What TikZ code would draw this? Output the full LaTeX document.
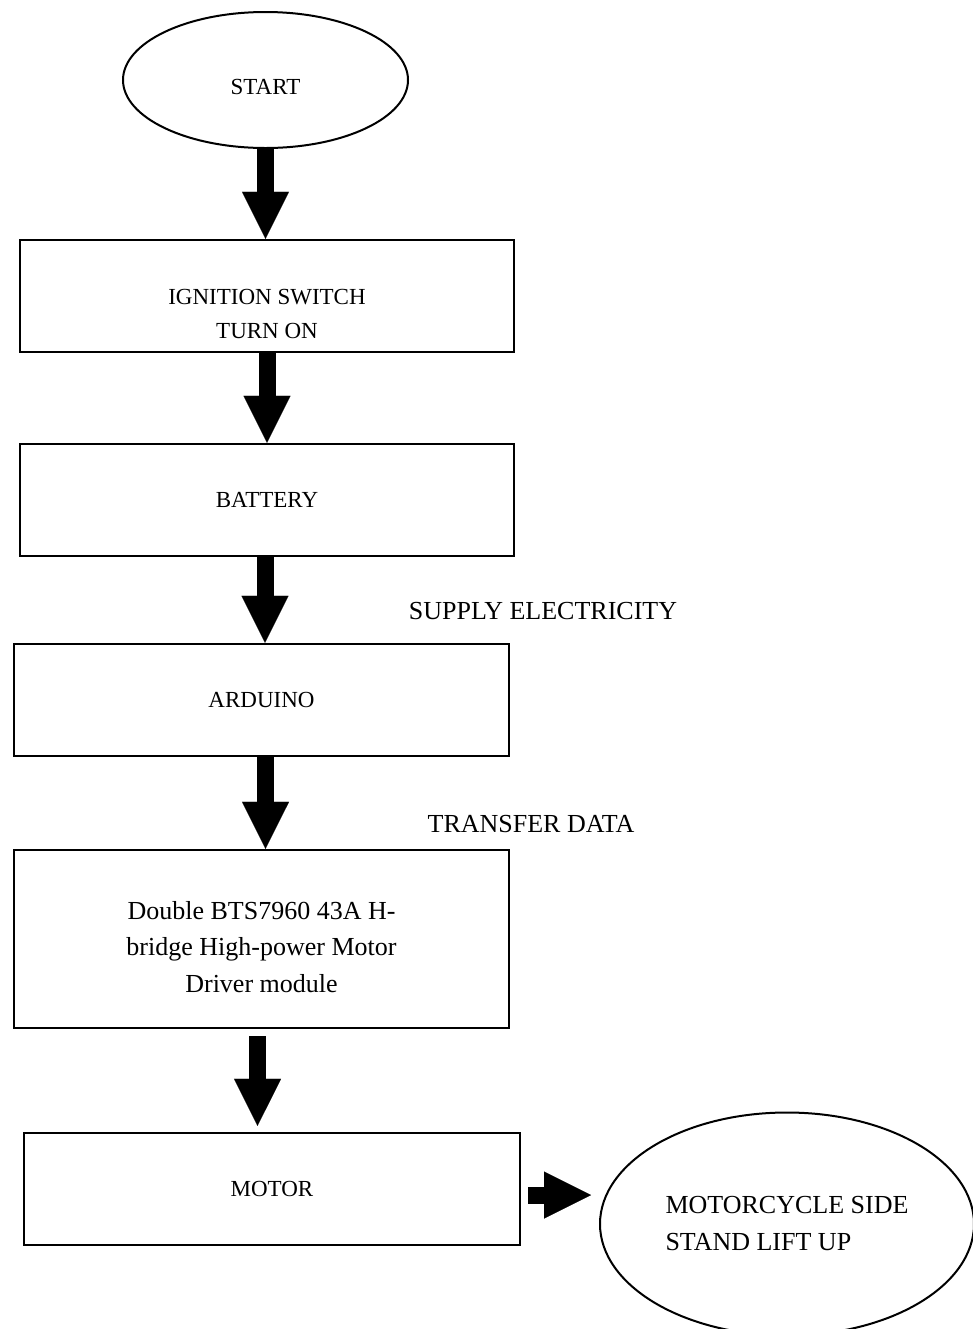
\documentclass[tikz,border=0pt]{standalone}
\usepackage{fontspec}
\setmainfont{Liberation Serif}
\usetikzlibrary{arrows.meta,positioning,shapes.geometric}
\newcommand{\dropby}[2]{\raisebox{-#1}[\height][\depth]{\begin{tabular}{@{}c@{}}#2\end{tabular}}}
\tikzset{
  stepbox/.style={draw,rectangle,line width=1.25pt,minimum width=247pt,
                  minimum height=56pt,inner sep=0pt,align=center,
                  font=\fontsize{11.5}{17}\selectfont},
  endpt/.style={draw,ellipse,line width=1pt,inner sep=0pt,align=center},
  fat/.style={line width=8.5pt,
              -{Triangle[length=23.5pt,width=23.5pt,line width=0.01pt]}},
  lbl/.style={font=\fontsize{13}{18}\selectfont,inner sep=0pt},
}
\begin{document}
\begin{tikzpicture}[x=0.5pt,y=-0.5pt]
  \clip (0,0) rectangle (973,1329);

  \node[endpt,minimum width=142.5pt,minimum height=68pt,
        font=\fontsize{11.5}{17}\selectfont] (start) at (265.5,80)
        {\dropby{4pt}{START}};
  \node[stepbox] (ign) at (267,296)
        {\dropby{9.5pt}{IGNITION SWITCH\\TURN ON}};
  \node[stepbox] (bat) at (267,500) {BATTERY};
  \node[stepbox,minimum width=247.5pt] (ard) at (261.5,700) {ARDUINO};
  \node[stepbox,minimum width=247.5pt,minimum height=89pt,
        font=\fontsize{13}{18.25}\selectfont] (drv) at (261.5,939)
        {\dropby{4.75pt}{Double BTS7960 43A H-\\bridge High-power Motor\\Driver module}};
  \node[stepbox,minimum width=248pt] (mot) at (272,1189) {MOTOR};
  \node[endpt,minimum width=187pt,minimum height=111.5pt,align=left,
        font=\fontsize{13}{18.5}\selectfont] (lift) at (787,1224)
        {MOTORCYCLE SIDE\\STAND LIFT UP};

  \draw[fat] (start.south) -- (start.south |- ign.north);
  \draw[fat] (ign.south) -- (ign.south |- bat.north);
  \draw[fat] ([xshift=-1pt]bat.south) -- ([xshift=-1pt]bat.south |- ard.north);
  \draw[fat] ([xshift=2pt]ard.south) -- ([xshift=2pt]ard.south |- drv.north);
  \draw[fat,shorten <=3.5pt,shorten >=3pt]
        ([xshift=-2pt]drv.south) -- ([xshift=-2pt]drv.south |- mot.north);
  \draw[fat,shorten <=3.5pt,shorten >=4pt]
        ([yshift=-3pt]mot.east) -- ([yshift=-3pt]mot.east -| lift.west);

  \node[lbl] (supply) at (543,611) {SUPPLY ELECTRICITY};
  \node[lbl] (xfer) at (531,824) {TRANSFER DATA};
\end{tikzpicture}
\end{document}
